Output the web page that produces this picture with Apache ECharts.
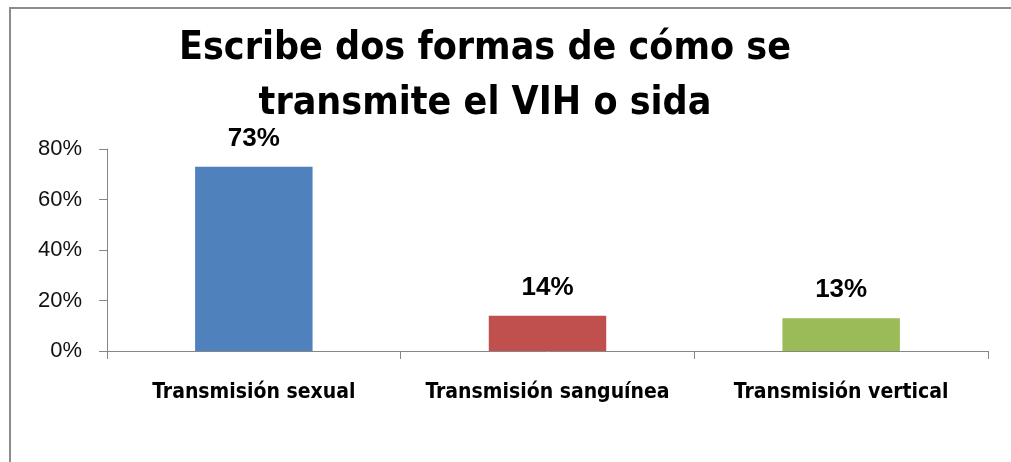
<!DOCTYPE html>
<html><head><meta charset="utf-8">
<script src="https://cdn.jsdelivr.net/npm/echarts@6/dist/echarts.min.js"></script>
<style>html,body{margin:0;padding:0;background:#fff}#c{width:1011px;height:462px}</style>
</head><body><div id="c"></div>
<script>
const categories = ['Transmisión sexual', 'Transmisión sanguínea', 'Transmisión vertical'];
const values = [73, 14, 13];
const colors = ['#4F81BD', '#C0504D', '#9BBB59'];
const titleText = 'Escribe dos formas de cómo se\ntransmite el VIH o sida';
const NARROW = "'Liberation Sans Narrow', 'DejaVu Sans Condensed', 'Liberation Sans', sans-serif";
const SANS = "'Liberation Sans', Arial, sans-serif";

const chart = echarts.init(document.getElementById('c'));
chart.setOption({
  animation: false,
  backgroundColor: '#fff',
  graphic: [{
    type: 'rect', shape: {x: 10, y: 8, width: 1020, height: 480},
    style: {fill: 'none', stroke: '#8c8c8c', lineWidth: 2}, silent: true
  }],
  title: {
    text: titleText, left: 480, top: 16, textAlign: 'center',
    textStyle: {fontFamily: NARROW, fontSize: 39, fontWeight: 'bold', color: '#000', lineHeight: 55}
  },
  grid: {left: 107, right: 23, top: 149, bottom: 111},
  xAxis: {
    type: 'category', data: categories,
    axisLine: {lineStyle: {color: '#868686'}},
    axisTick: {show: true, interval: 0, length: 8, lineStyle: {color: '#868686'}},
    axisLabel: {interval: 0, margin: 31, fontFamily: NARROW, fontSize: 21, fontWeight: 'bold', color: '#000'}
  },
  yAxis: {
    type: 'value', min: 0, max: 80, interval: 20,
    axisLine: {show: true, lineStyle: {color: '#868686'}},
    axisTick: {show: true, length: 8, lineStyle: {color: '#868686'}},
    splitLine: {show: false},
    axisLabel: {formatter: '{value}%', margin: 25, fontFamily: SANS, fontSize: 22, color: '#111'}
  },
  series: [{
    type: 'bar', barWidth: '40%',
    data: values.map((v, i) => ({value: v, itemStyle: {color: colors[i]}})),
    label: {show: true, position: 'top', distance: 15, formatter: '{c}%',
      fontFamily: SANS, fontSize: 26, fontWeight: 'bold', color: '#000'}
  }]
});
</script></body></html>
